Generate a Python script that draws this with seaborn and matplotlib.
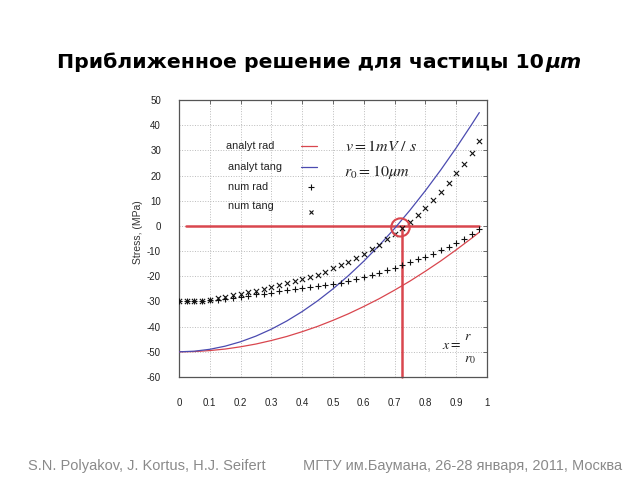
import matplotlib
matplotlib.use("Agg")
import matplotlib.pyplot as plt
import seaborn as sns
import pandas as pd
from matplotlib.patches import Ellipse

# ---- data ----
x_analyt = [0.0, 0.05, 0.1, 0.15, 0.2, 0.25, 0.3, 0.35, 0.4, 0.45, 0.5,
            0.55, 0.6, 0.65, 0.7, 0.75, 0.8, 0.85, 0.9, 0.95, 0.975]
analyt_rad = [-50.0, -49.9, -49.5, -48.9, -48.0, -46.9, -45.5, -43.9, -42.0, -39.9, -37.5,
              -34.9, -32.0, -28.9, -25.5, -21.9, -18.0, -13.9, -9.5, -4.9, -2.5]
analyt_tang = [-50.0, -49.75, -49.0, -47.75, -46.0, -43.75, -41.0, -37.75, -34.0, -29.75, -25.0,
               -19.75, -14.0, -7.75, -1.0, 6.25, 14.0, 22.25, 31.0, 40.25, 45.0]

x_num = [0.0, 0.025, 0.05, 0.075, 0.1, 0.125, 0.15, 0.175, 0.2, 0.225,
         0.25, 0.275, 0.3, 0.325, 0.35, 0.375, 0.4, 0.425, 0.45, 0.475,
         0.5, 0.525, 0.55, 0.575, 0.6, 0.625, 0.65, 0.675, 0.7, 0.725,
         0.75, 0.775, 0.8, 0.825, 0.85, 0.875, 0.9, 0.925, 0.95, 0.975]
num_rad = [-30.0, -30.0, -29.9, -29.8, -29.6, -29.3, -29.0, -28.6, -28.2, -27.7,
           -27.2, -26.9, -26.5, -26.0, -25.6, -25.2, -24.8, -24.4, -24.0, -23.6,
           -23.2, -22.5, -21.8, -21.2, -20.3, -19.6, -18.6, -17.6, -16.7, -15.6,
           -14.5, -13.2, -12.3, -11.0, -9.6, -8.3, -6.6, -5.0, -3.3, -1.3]
num_tang = [-30.0, -30.0, -29.9, -29.7, -29.3, -28.8, -28.2, -27.6, -27.0, -26.4,
            -25.7, -25.0, -24.3, -23.6, -22.8, -22.0, -21.2, -20.3, -19.3, -18.2,
            -16.9, -15.6, -14.3, -12.7, -11.1, -9.2, -7.4, -5.3, -3.2, -0.8,
            1.6, 4.4, 7.3, 10.3, 13.4, 16.9, 20.9, 24.6, 29.1, 33.7]

x_ticks = [0, 0.1, 0.2, 0.3, 0.4, 0.5, 0.6, 0.7, 0.8, 0.9, 1]
x_tick_labels = ["0", "0.1", "0.2", "0.3", "0.4", "0.5", "0.6", "0.7", "0.8", "0.9", "1"]
y_ticks = [50, 40, 30, 20, 10, 0, -10, -20, -30, -40, -50, -60]

legend_labels = ["analyt rad", "analyt tang", "num rad", "num tang"]
title_main = "Приближенное решение для частицы 10"
title_unit = "μm"
y_label = "Stress, (MPa)"
footer_left = "S.N. Polyakov, J. Kortus, H.J. Seifert"
footer_right = "МГТУ им.Баумана, 26-28 января, 2011, Москва"
x_cross = 0.724

RED = "#d9464e"
BLUE = "#4b4bb0"

sns.set_style("white")
plt.rcParams["font.family"] = ["Liberation Sans", "DejaVu Sans"]
plt.rcParams["mathtext.fontset"] = "stix"
plt.rcParams["axes.unicode_minus"] = False

fig = plt.figure(figsize=(6.4, 4.8), dpi=100)
ax = fig.add_axes([179 / 640, 1 - 377 / 480, 308 / 640, 277 / 480])

df_a = pd.DataFrame({"x": x_analyt, "rad": analyt_rad, "tang": analyt_tang})
df_n = pd.DataFrame({"x": x_num, "rad": num_rad, "tang": num_tang})

sns.lineplot(data=df_a, x="x", y="rad", ax=ax, color=RED, lw=0.9, zorder=3)
sns.lineplot(data=df_a, x="x", y="tang", ax=ax, color=BLUE, lw=0.9, zorder=3)
sns.scatterplot(data=df_n, x="x", y="rad", ax=ax, marker="+", color="#111111",
                s=18, linewidth=0.8, zorder=4)
sns.scatterplot(data=df_n, x="x", y="tang", ax=ax, marker="x", color="#111111",
                s=14, linewidth=0.8, zorder=4)

# highlight lines
ax.plot([0.023, 0.975], [0, 0], color=RED, lw=1.8, zorder=2)
ax.plot([x_cross, x_cross], [-60, 0], color=RED, lw=1.8, zorder=2, clip_on=False)
ax.add_patch(Ellipse((x_cross - 0.005, -0.6), width=0.06, height=7.2, fill=False,
                     edgecolor=RED, lw=1.5, zorder=5))

ax.set_xlim(0, 1)
ax.set_ylim(-60, 50)
ax.set_xticks(x_ticks)
ax.set_xticklabels(x_tick_labels)
ax.set_yticks(y_ticks)
ax.set_xlabel("")
ax.set_ylabel(y_label, fontsize=7.5, color="#333333")
ax.yaxis.set_label_coords(-0.117, 0.523)
ax.tick_params(axis="both", which="both", direction="in", length=3, width=0.6,
               colors="#555555", labelcolor="#222222", labelsize=7,
               top=True, right=True)
ax.tick_params(axis="x", pad=15)
ax.tick_params(axis="y", pad=13)
ax.grid(True, color="#bbbbbb", linestyle=":", lw=0.7)
for sp in ax.spines.values():
    sp.set_color("#555555")
    sp.set_linewidth(0.9)

# custom legend
leg_x_text = 0.152
leg_y = [31.6, 23.3, 15.4, 7.8]
for i, (lab, yy) in enumerate(zip(legend_labels, leg_y)):
    ax.text(leg_x_text + (0.007 if i else 0), yy, lab, fontsize=7.8, color="#222222",
            ha="left", va="center")
ax.plot([0.396, 0.448], [leg_y[0] + 0.2, leg_y[0] + 0.2], color=RED, lw=0.9)
ax.plot([0.396, 0.448], [leg_y[1] + 0.2, leg_y[1] + 0.2], color=BLUE, lw=0.9)
ax.plot([0.43], [15.4], marker="+", color="#111111", ms=4, mew=0.8)
ax.plot([0.43], [5.4], marker="x", color="#111111", ms=3.5, mew=0.8)

ax.text(0.54, 31.6, r"$v = 1mV\ /\ s$", fontsize=11.5, color="#222222",
        ha="left", va="center")
ax.text(0.535, 21.3, r"$r_0 = 10\mu m$", fontsize=11.5, color="#222222",
        ha="left", va="center")
ax.text(0.853, -47.2, r"$x =$", fontsize=10, color="#222222", ha="left", va="center")
ax.text(0.937, -43.8, r"$r$", fontsize=10, color="#222222", ha="center", va="center")
ax.text(0.945, -52.8, r"$r_0$", fontsize=10, color="#222222", ha="center", va="center")

# title in two pieces (upright text + italic unit)
t_main = fig.text(57 / 640, 1 - 62 / 480, title_main, fontsize=14.7, fontweight="bold",
                  family=["DejaVu Sans"], ha="left", va="center", color="#000000")
fig.canvas.draw()
bb = t_main.get_window_extent(renderer=fig.canvas.get_renderer())
fig.text(bb.x1 / 640 + 0.002, 1 - 62 / 480, title_unit, fontsize=14.7, fontweight="bold",
         style="italic", family=["DejaVu Sans"], ha="left", va="center", color="#000000")

fig.text(28 / 640, 1 - 466 / 480, footer_left, fontsize=10.5, color="#8a8a8a",
         ha="left", va="center")
fig.text(303 / 640, 1 - 466 / 480, footer_right, fontsize=10.5, color="#8a8a8a",
         ha="left", va="center")

fig.savefig("out.png", dpi=100)
